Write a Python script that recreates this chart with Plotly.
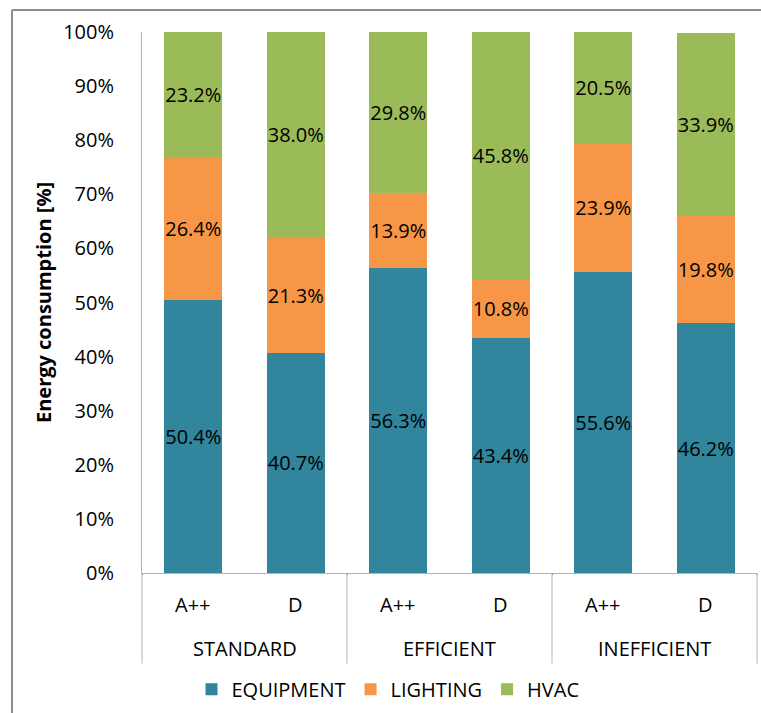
import plotly.graph_objects as go

# Building type (outer axis level) and energy rating (inner axis level)
groups = ["STANDARD", "STANDARD", "EFFICIENT", "EFFICIENT", "INEFFICIENT", "INEFFICIENT"]
ratings = ["A++", "D", "A++", "D", "A++", "D"]
group_names = ["STANDARD", "EFFICIENT", "INEFFICIENT"]

# Share of total energy consumption per end use [%]
equipment = [50.4, 40.7, 56.3, 43.4, 55.6, 46.2]
lighting = [26.4, 21.3, 13.9, 10.8, 23.9, 19.8]
hvac = [23.2, 38.0, 29.8, 45.8, 20.5, 33.9]

series = [
    ("EQUIPMENT", equipment, "#31859C"),
    ("LIGHTING", lighting, "#F79646"),
    ("HVAC", hvac, "#9BBB59"),
]

FONT = "Open Sans"
FS = 20
AXIS_GREY = "#B3B3B3"

# plot-area geometry in pixels (used to place the category labels in paper units)
PLOT_H = 544

def py(px_below_axis):
    return -px_below_axis / PLOT_H

fig = go.Figure()
for name, vals, color in series:
    fig.add_trace(go.Bar(
        x=[groups, ratings],
        y=vals,
        name=name,
        marker=dict(color=color, line=dict(width=0)),
        texttemplate="%{y:.1f}%",
        textposition="inside",
        insidetextanchor="middle",
        textangle=0,
        constraintext="none",
        textfont=dict(family=FONT, size=FS, color="black"),
    ))

# Two-level category labels below the x axis
n = len(ratings)
for i, r in enumerate(ratings):
    fig.add_annotation(x=(i + 0.5) / n, y=py(32), xref="paper", yref="paper",
                       text=r, showarrow=False, xanchor="center", yanchor="middle",
                       font=dict(family=FONT, size=FS, color="black"))
ng = len(group_names)
for j, g in enumerate(group_names):
    fig.add_annotation(x=(j + 0.5) / ng, y=py(76), xref="paper", yref="paper",
                       text=g, showarrow=False, xanchor="center", yanchor="middle",
                       font=dict(family=FONT, size=FS, color="black"))
# group dividers
for k in range(ng + 1):
    fig.add_shape(type="line", xref="paper", yref="paper",
                  x0=k / ng, x1=k / ng, y0=0, y1=py(91),
                  line=dict(color=AXIS_GREY, width=1))

# Chart-area frame (left and top edges are visible)
frame_x0, frame_y1 = -130 / 615, 566 / 544
fig.add_shape(type="line", xref="paper", yref="paper",
              x0=frame_x0, x1=frame_x0, y0=frame_y1, y1=-0.4,
              line=dict(color="#8C8C8C", width=2))
fig.add_shape(type="line", xref="paper", yref="paper",
              x0=frame_x0, x1=1.2, y0=frame_y1, y1=frame_y1,
              line=dict(color="#8C8C8C", width=2))

fig.update_layout(
    barmode="stack",
    bargap=0.43,
    width=761,
    height=713,
    margin=dict(l=142, r=4, t=32, b=137),
    paper_bgcolor="white",
    plot_bgcolor="white",
    font=dict(family=FONT, size=FS, color="black"),
    showlegend=True,
    legend=dict(
        orientation="h",
        x=0.40, xanchor="center",
        y=py(117), yanchor="middle",
        font=dict(family=FONT, size=FS, color="black"),
        traceorder="normal",
    ),
    xaxis=dict(
        type="multicategory",
        showline=True, linecolor=AXIS_GREY, linewidth=1,
        showticklabels=False,
        ticks="", showgrid=False,
    ),
    yaxis=dict(
        range=[0, 100],
        dtick=10,
        ticksuffix="%",
        showgrid=False,
        zeroline=False,
        showline=True, linecolor=AXIS_GREY, linewidth=1,
        ticks="",
        ticklabelstandoff=23,
        tickfont=dict(family=FONT, size=FS, color="black"),
        title=dict(text="<b>Energy consumption [%]</b>", standoff=6,
                   font=dict(family=FONT, size=FS, color="black")),
    ),
)

fig.write_html("out.html")
